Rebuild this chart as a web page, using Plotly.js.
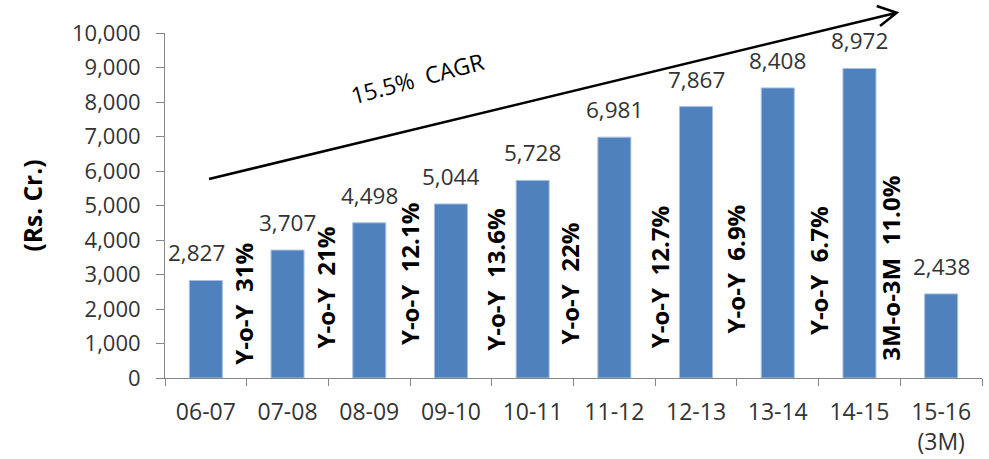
<!DOCTYPE html>
<html><head><meta charset="utf-8">
<script src="https://cdn.plot.ly/plotly-3.0.1.min.js"></script>
<style>html,body{margin:0;padding:0;background:#fff}#chart{width:989px;height:459px}</style>
</head><body><div id="chart"></div>
<script>
// ---- data ----
const categories = ['06-07','07-08','08-09','09-10','10-11','11-12','12-13','13-14','14-15','15-16<br>(3M)'];
const values = [2827, 3707, 4498, 5044, 5728, 6981, 7867, 8408, 8972, 2438];
const growthLabels = ['Y-o-Y  31%','Y-o-Y  21%','Y-o-Y  12.1%','Y-o-Y  13.6%','Y-o-Y  22%','Y-o-Y  12.7%','Y-o-Y  6.9%','Y-o-Y  6.7%','3M-o-3M  11.0%'];
const cagrLabel = '15.5%  CAGR';
const yTickVals = [0,1000,2000,3000,4000,5000,6000,7000,8000,9000,10000];
const yTitle = '(Rs. Cr.)';

// ---- layout helpers (positions/styling) ----
const growthYShift = [11, 28, 31, 25, 31, 28, 43, 41, 15];
const growthXShift = [-4, -3, -1, 3, -5, 4, -1, 0, -10];
const valueXShift = [-9, 0, 0, 0, 0, 0, 0, 0, 0, 0];
const FONT = 'Open Sans, Arial, sans-serif';
const fmt = v => v.toLocaleString('en-US');

const annotations = [];
values.forEach((v, i) => {
  annotations.push({
    x: categories[i], y: v, xref: 'x', yref: 'y',
    text: fmt(v), showarrow: false, yanchor: 'bottom', xanchor: 'center',
    yshift: 10, xshift: valueXShift[i],
    font: {family: FONT, size: 22.5, color: '#333333'}
  });
});
growthLabels.forEach((t, i) => {
  annotations.push({
    x: i + 0.5, y: 0, xref: 'x', yref: 'y',
    text: '<b>' + t + '</b>', showarrow: false, textangle: -90,
    yanchor: 'bottom', xanchor: 'center', yshift: growthYShift[i], xshift: growthXShift[i],
    font: {family: FONT, size: 24, color: '#000000'}
  });
});
annotations.push({
  x: 0.309, y: 0.8696, xref: 'paper', yref: 'paper', text: cagrLabel, showarrow: false,
  textangle: -15, xanchor: 'center', yanchor: 'middle',
  font: {family: FONT, size: 23, color: '#000000'}
});

const data = [{
  type: 'bar', x: categories, y: values,
  marker: {color: '#4F81BD', line: {color: '#A7BFDE', width: 1}},
  hoverinfo: 'skip'
}];

const layout = {
  width: 989, height: 459,
  margin: {l: 165, r: 7, t: 33, b: 81},
  paper_bgcolor: '#ffffff', plot_bgcolor: '#ffffff',
  showlegend: false, bargap: 0.596,
  font: {family: FONT, color: '#333333'},
  xaxis: {
    type: 'category', showline: true, linecolor: '#868686', linewidth: 1,
    ticks: 'outside', ticklen: 7, tickcolor: '#868686', tickson: 'boundaries',
    showgrid: false, zeroline: false, ticklabelstandoff: 13,
    tickfont: {family: FONT, size: 23, color: '#333333'}
  },
  yaxis: {
    range: [0, 10000], tickvals: yTickVals, tickformat: ',', showgrid: false, zeroline: false,
    showline: true, linecolor: '#868686', linewidth: 1,
    ticks: 'outside', ticklen: 8, tickcolor: '#868686', ticklabelstandoff: 11,
    tickfont: {family: FONT, size: 22, color: '#333333'},
    title: {text: '<b>' + yTitle + '</b>', standoff: 22, font: {family: FONT, size: 24.5, color: '#000000'}}
  },
  annotations: annotations,
  shapes: [{
    type: 'path', xref: 'paper', yref: 'paper',
    path: 'M0.0539,0.5768 L0.8956,1.0588 M0.8711,1.0783 L0.8956,1.0588 L0.8752,1.0203',
    line: {color: '#000000', width: 2.5}
  }]
};

Plotly.newPlot('chart', data, layout, {displayModeBar: false, staticPlot: true});
</script></body></html>
